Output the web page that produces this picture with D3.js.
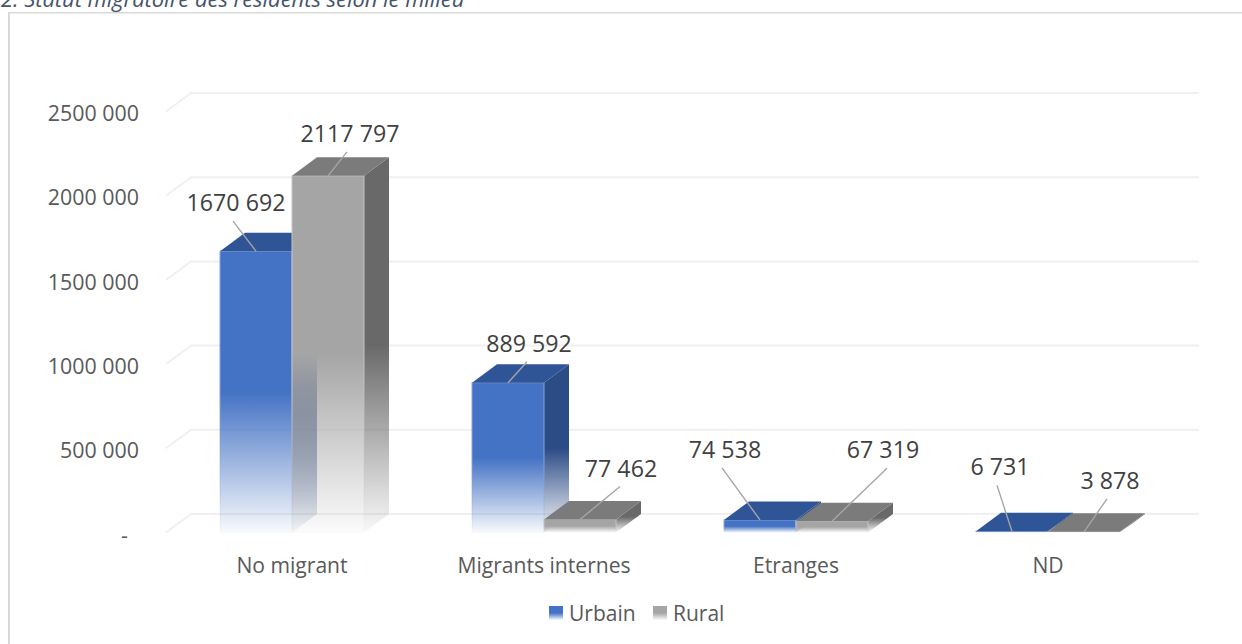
<!DOCTYPE html>
<html lang="fr">
<head>
<meta charset="utf-8">
<title>Statut migratoire des résidents selon le milieu</title>
<script src="https://cdn.jsdelivr.net/npm/d3@7/dist/d3.min.js"></script>
<style>
  html, body { margin: 0; padding: 0; background: #fff; overflow: hidden; }
  svg { display: block; font-family: "Open Sans", sans-serif; }
</style>
</head>
<body>
<svg id="chart" width="1242" height="644"></svg>
<script>
// Residents by migration status and area type
const categories = ["No migrant", "Migrants internes", "Etranges", "ND"];
const seriesNames = ["Urbain", "Rural"];
const urbain = [1670692, 889592, 74538, 6731];
const rural = [2117797, 77462, 67319, 3878];
const tickValues = [0, 500000, 1000000, 1500000, 2000000, 2500000];

// Label placement relative to the top-front centre of each bar: dx, dy, leader end dx
const urbainLabelOffset = [[-20, -48, -3], [21, -39, -2], [-35, -70, -3], [-12, -64, -3]];
const ruralLabelOffset = [[22, -42, -3], [41, -51, -1], [51, -71, 4], [26, -51, -3]];

const palette = {
  Urbain: { front: "#4472c4", top: "#2f5597", side: "#2c4c86", edge: "#86a3da" },
  Rural: { front: "#a5a5a5", top: "#7b7b7b", side: "#696969", edge: "#c4c4c4" }
};

const depthX = 25, depthY = 18.5;

const svg = d3.select("#chart");
const fmt = d => {
  const s = d3.format("d")(d);
  return s.length > 3 ? s.slice(0, -3) + " " + s.slice(-3) : s;
};

const x = d3.scaleBand().domain(categories).range([166, 1174]);
const inner = d3.scaleBand().domain(seriesNames).range([54, 198]);
const y = d3.scaleLinear().domain([0, 2500000]).range([532.5, 111.5]);

// Vertical fade shared by the bar faces and legend keys
const defs = svg.append("defs");
function fade(id, colour) {
  const g = defs.append("linearGradient").attr("id", id)
    .attr("x1", 0).attr("y1", 0).attr("x2", 0).attr("y2", 1);
  g.append("stop").attr("offset", "50%").attr("stop-color", colour).attr("stop-opacity", 1);
  g.append("stop").attr("offset", "100%").attr("stop-color", colour).attr("stop-opacity", 0.04);
}
seriesNames.forEach(name => {
  fade("front-" + name, palette[name].front);
  fade("side-" + name, palette[name].side);
  fade("edge-" + name, palette[name].edge);
});

// Frame and clipped caption
svg.append("rect").attr("x", 8).attr("y", 12).attr("width", 2).attr("height", 632).attr("fill", "#d9d9d9");
svg.append("rect").attr("x", 8).attr("y", 12).attr("width", 1234).attr("height", 1.5).attr("fill", "#d9d9d9");
svg.append("text").attr("x", 1).attr("y", 7)
  .attr("font-style", "italic").attr("font-size", 21.9).attr("fill", "#44546a")
  .text("2. Statut migratoire des résidents selon le milieu");

// Floor and wall grid
const grid = svg.append("g").attr("fill", "none").attr("stroke", "#f0f0f0").attr("stroke-width", 2);
tickValues.forEach(v => {
  const py = y(v);
  grid.append("path").attr("d", d3.line()([
    [x.range()[0], py],
    [x.range()[0] + depthX, py - depthY],
    [x.range()[1] + depthX, py - depthY]
  ]));
});

// Value axis
const yAxis = d3.axisLeft(y).tickValues(tickValues).tickSize(0).tickPadding(0)
  .tickFormat(d => d === 0 ? "-" : fmt(d));
svg.append("g").attr("transform", "translate(139,0)").call(yAxis)
  .call(g => g.select(".domain").remove())
  .call(g => g.selectAll("text")
    .attr("font-family", "'Open Sans', sans-serif").attr("font-size", 21.4).attr("fill", "#595959")
    .attr("dy", d => d === 0 ? "0.47em" : "0.43em")
    .attr("dx", d => d === 0 ? -11 : 0));

// Category axis
const xAxis = d3.axisBottom(x).tickSize(0).tickPadding(0);
svg.append("g").attr("transform", "translate(0,558)").call(xAxis)
  .call(g => g.select(".domain").remove())
  .call(g => g.selectAll("text")
    .attr("font-family", "'Open Sans', sans-serif").attr("font-size", 21.1).attr("fill", "#595959")
    .attr("dy", "0.71em"));

// 3D columns, urban before rural so the rural faces overlap it
const series = [
  { name: "Urbain", values: urbain, offsets: urbainLabelOffset },
  { name: "Rural", values: rural, offsets: ruralLabelOffset }
];
const poly = pts => d3.line()(pts) + "Z";
const anchors = [];

series.forEach(s => {
  const colours = palette[s.name];
  const layer = svg.append("g").attr("class", "series-" + s.name);
  categories.forEach((c, i) => {
    const v = s.values[i];
    const x0 = x(c) + inner(s.name);
    const x1 = x0 + inner.bandwidth();
    const yTop = y(v), yBase = y(0);
    layer.append("path").attr("fill", `url(#side-${s.name})`).attr("d", poly([
      [x1, yTop], [x1 + depthX, yTop - depthY], [x1 + depthX, yBase - depthY], [x1, yBase]
    ]));
    layer.append("rect").attr("x", x0).attr("y", yTop)
      .attr("width", x1 - x0).attr("height", yBase - yTop)
      .attr("fill", `url(#front-${s.name})`)
      .attr("stroke", `url(#edge-${s.name})`).attr("stroke-width", 1);
    layer.append("path").attr("fill", colours.top).attr("d", poly([
      [x0, yTop], [x0 + depthX, yTop - depthY], [x1 + depthX, yTop - depthY], [x1, yTop]
    ]));
    anchors.push({ ax: (x0 + x1) / 2, ay: yTop, v, off: s.offsets[i] });
  });
});

// Value labels with leader lines
const labels = svg.append("g");
anchors.forEach(a => {
  const tx = a.ax + a.off[0], ty = a.ay + a.off[1];
  labels.append("line").attr("x1", a.ax).attr("y1", a.ay)
    .attr("x2", tx + a.off[2]).attr("y2", ty + 18)
    .attr("stroke", "#a6a6a6").attr("stroke-width", 1.4);
  labels.append("text").attr("x", tx).attr("y", ty)
    .attr("text-anchor", "middle").attr("dy", "0.35em")
    .attr("font-size", 23.2).attr("fill", "#404040").text(fmt(a.v));
});

// Legend
const legend = svg.append("g");
const legendX = { Urbain: 549, Rural: 653 };
seriesNames.forEach(name => {
  legend.append("rect").attr("x", legendX[name]).attr("y", 606).attr("width", 14).attr("height", 14)
    .attr("fill", `url(#front-${name})`);
  legend.append("text").attr("x", legendX[name] + 20).attr("y", 613).attr("dy", "0.37em")
    .attr("font-size", 21).attr("fill", "#595959").text(name);
});
</script>
</body>
</html>
